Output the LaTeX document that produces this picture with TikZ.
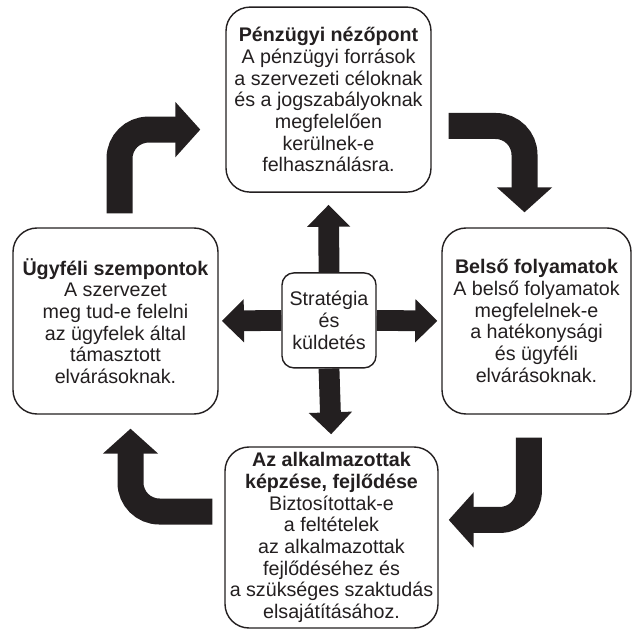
\documentclass[tikz,border=0pt]{standalone}
\usepackage{fontspec}
\setmainfont{Liberation Sans}
\usepackage{tikz}
\usetikzlibrary{
    positioning,
    arrows.meta,
    calc,
    backgrounds
}
\definecolor{InkBlack}{RGB}{35,31,32}

\begin{document}
\begin{tikzpicture}[
    font=\fontsize{14}{15.4}\selectfont,
    panel/.style={draw=InkBlack, line width=1pt, rounded corners=0.6cm, align=center,
        inner sep=0pt, text=InkBlack, fill=white},
    hub/.style={panel, rounded corners=0.3cm, minimum width=2.35cm, minimum height=2.375cm},
    spoke/.style={InkBlack, line width=0.52cm, -{Triangle[width=1.05cm, length=0.55cm]}},
    bendarrow/.style={InkBlack, line width=0.65cm, rounded corners=0.72cm,
        -{Triangle[width=1.35cm, length=0.625cm]}},
]
    \useasboundingbox (0,0) rectangle (15.85,15.75);

    % Center
    \node[hub] (strat) at (8.225,7.74) {Stratégia\\és\\küldetés};

    % Four perspectives
    \node[panel, minimum width=5.125cm, minimum height=4.625cm] (fin) at (8.2125,13.26)
        {\textbf{Pénzügyi nézőpont}\\A pénzügyi források\\a szervezeti céloknak\\és a jogszabályoknak\\megfelelően\\kerülnek-e\\felhasználásra.};
    \node[panel, minimum width=4.725cm, minimum height=4.65cm] (proc) at (13.4125,7.725)
        {\textbf{Belső folyamatok}\\A belső folyamatok\\megfelelnek-e\\a hatékonysági\\és ügyféli\\elvárásoknak.};
    \node[panel, minimum width=5.325cm, minimum height=4.525cm] (learn) at (8.2875,2.3125)
        {\textbf{Az alkalmazottak}\\\textbf{képzése, fejlődése}\\Biztosítottak-e\\a feltételek\\az alkalmazottak\\fejlődéséhez és\\a szükséges szaktudás\\elsajátításához.};
    \node[panel, minimum width=5.125cm, minimum height=4.65cm] (cust) at (2.8875,7.725)
        {\textbf{Ügyféli szempontok}\\A szervezet\\meg tud-e felelni\\az ügyfelek által\\támasztott\\elvárásoknak.};

    % Free ends of the bent arrows
    \coordinate (c1s) at ($(cust.north)+(0.1,0.35)$);
    \coordinate (c1e) at ($(fin.west)+(-0.625,-0.75)$);
    \coordinate (c2s) at ($(fin.east)+(0.425,-0.66)$);
    \coordinate (c2e) at ($(proc.north)+(-0.3,0.375)$);
    \coordinate (c3s) at ($(proc.south)+(-0.19,-0.575)$);
    \coordinate (c3e) at ($(learn.east)+(0.25,0.44)$);
    \coordinate (c4s) at ($(learn.west)+(-0.3,0.65)$);
    \coordinate (c4e) at ($(cust.south)+(0.375,-0.35)$);

    \begin{scope}[on background layer]
        % Spokes from the center
        \draw[spoke, shorten >=0.3cm] (strat.north) -- (fin.south);
        \draw[spoke, shorten >=0.1cm] (strat.east) -- (proc.west);
        \draw[spoke, shorten >=0.3cm] (strat.south) -- (learn.north);
        \draw[spoke, shorten >=0.08cm] (strat.west) -- (cust.east);

        % Cycle arrows
        \draw[bendarrow] (c1s) |- (c1e);
        \draw[bendarrow] (c2s) -| (c2e);
        \draw[bendarrow] (c3s) |- (c3e);
        \draw[bendarrow] (c4s) -| (c4e);
    \end{scope}
\end{tikzpicture}
\end{document}
